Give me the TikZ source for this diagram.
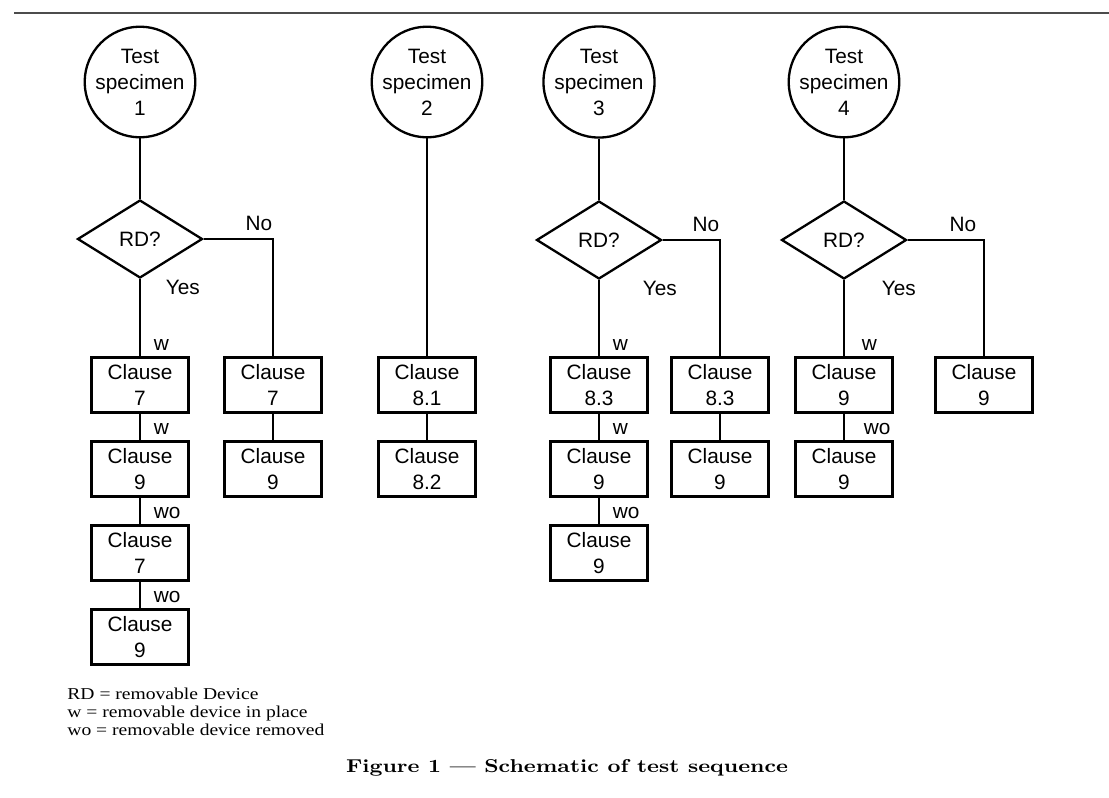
\documentclass[tikz,border=0pt]{standalone}
\usepackage{fontspec}
\usepackage{tikz}
\usetikzlibrary{shapes.geometric}
\newfontfamily\diagfont{Liberation Sans}
\newfontfamily\legendfont[FakeStretch=1.18]{Liberation Serif}

\begin{document}
\begin{tikzpicture}[x=0.5pt,y=-0.5pt,
		every node/.style={font=\diagfont\fontsize{10.4}{13}\selectfont},
		spec/.style={circle, draw, line width=1.15pt, minimum size=55pt, inner sep=0pt, align=center},
		query/.style={diamond, draw, line width=1.15pt, minimum width=62.5pt, minimum height=39pt, inner sep=0pt},
		clause/.style={rectangle, draw, line width=1.45pt, minimum width=48.5pt, minimum height=27.5pt, inner sep=0pt, align=center},
		link/.style={line width=0.8pt},
		lbl/.style={anchor=base west, inner sep=0pt, xshift=6.5pt, yshift=3pt},
		yeslbl/.style={anchor=north west, inner sep=0pt},
		nolbl/.style={anchor=south east, inner sep=0pt, yshift=4pt}]
		\useasboundingbox (0,0) rectangle (1109,798);
		\draw[line width=1pt, black!70] (14,13) -- (1109,13);
		
		% test specimens
		\node[spec] (s1) at (140,82) {Test\\specimen\\1};
		\node[spec] (s2) at (427,82) {Test\\specimen\\2};
		\node[spec] (s3) at (599,82) {Test\\specimen\\3};
		\node[spec] (s4) at (844,82) {Test\\specimen\\4};
		
		\node[query] (q1) at (140,239) {RD?};
		\node[query] (q3) at (599,240) {RD?};
		\node[query] (q4) at (844,240) {RD?};
		
		% specimen 1
		\node[clause] (c1a) at (140,385) {Clause\\7};
		\node[clause] (c1b) at (140,469) {Clause\\9};
		\node[clause] (c1c) at (140,553) {Clause\\7};
		\node[clause] (c1d) at (140,637) {Clause\\9};
		\node[clause] (n1a) at (273,385) {Clause\\7};
		\node[clause] (n1b) at (273,469) {Clause\\9};
		
		\draw[link] (s1) -- (q1);
		\draw[link] (q1) -- node[pos=0, yeslbl, xshift=12.5pt] {Yes} node[pos=1, lbl] {w} (c1a);
		\draw[link] (c1a) -- node[pos=1, lbl] {w} (c1b);
		\draw[link] (c1b) -- node[pos=1, lbl] {wo} (c1c);
		\draw[link] (c1c) -- node[pos=1, lbl] {wo} (c1d);
		\draw[link] (q1.east) -| node[pos=0.5, nolbl] {No} (n1a);
		\draw[link] (n1a) -- (n1b);
		
		% specimen 2
		\node[clause] (c2a) at (427,385) {Clause\\8.1};
		\node[clause] (c2b) at (427,469) {Clause\\8.2};
		
		\draw[link] (s2) -- (c2a);
		\draw[link] (c2a) -- (c2b);
		
		% specimen 3
		\node[clause] (c3a) at (599,385) {Clause\\8.3};
		\node[clause] (c3b) at (599,469) {Clause\\9};
		\node[clause] (c3c) at (599,553) {Clause\\9};
		\node[clause] (n3a) at (720,385) {Clause\\8.3};
		\node[clause] (n3b) at (720,469) {Clause\\9};
		
		\draw[link] (s3) -- (q3);
		\draw[link] (q3) -- node[pos=0, yeslbl, xshift=21.5pt] {Yes} node[pos=1, lbl] {w} (c3a);
		\draw[link] (c3a) -- node[pos=1, lbl] {w} (c3b);
		\draw[link] (c3b) -- node[pos=1, lbl] {wo} (c3c);
		\draw[link] (q3.east) -| node[pos=0.5, nolbl] {No} (n3a);
		\draw[link] (n3a) -- (n3b);
		
		% specimen 4
		\node[clause] (c4a) at (844,385) {Clause\\9};
		\node[clause] (c4b) at (844,469) {Clause\\9};
		\node[clause] (n4a) at (984,385) {Clause\\9};
		
		\draw[link] (s4) -- (q4);
		\draw[link] (q4) -- node[pos=0, yeslbl, xshift=18.5pt] {Yes} node[pos=1, lbl, xshift=2pt] {w} (c4a);
		\draw[link] (c4a) -- node[pos=1, lbl, xshift=3pt] {wo} (c4b);
		\draw[link] (q4.east) -| node[pos=0.5, nolbl, xshift=-3.5pt] {No} (n4a);
		
		% key and caption
		\node[anchor=north west, align=left, inner sep=0pt, font=\legendfont\fontsize{8.3}{9}\selectfont] (key) at (67,688)
			{RD = removable Device\\w = removable device in place\\wo = removable device removed};
		\node[font=\rmfamily\bfseries\fontsize{9.3}{11}\selectfont] (caption) at (567,768)
			{\resizebox{221pt}{\height}{Figure 1 --- Schematic of test sequence}};
	\end{tikzpicture}
\end{document}
